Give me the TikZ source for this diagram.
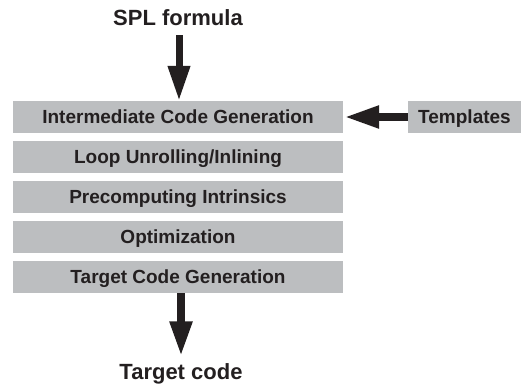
\documentclass[tikz,border=0pt]{standalone}
\usepackage{fontspec}
\setmainfont{Liberation Sans}
\usetikzlibrary{arrows.meta}
\definecolor{boxgray}{RGB}{188,190,192}
\definecolor{ink}{RGB}{35,31,32}
\begin{document}
\begin{tikzpicture}[x=1pt,y=1pt,
  stage/.style={fill=boxgray, draw=none, minimum width=330pt, minimum height=32pt, inner sep=0pt,
    text height=12.6pt, text depth=0pt,
    text=ink, font=\fontsize{19}{22}\selectfont\bfseries},
  title/.style={inner sep=0pt, text=ink, font=\fontsize{22}{26}\selectfont\bfseries, anchor=base},
  bigarrow/.style={draw=ink, line width=#1, -{Triangle[width=21pt,length=35pt]}},
]
\useasboundingbox (0,0) rectangle (521,-388);
\node[title] (spl) at (178,-25) {SPL formula};
\node[stage] (b1) at (178,-117) {Intermediate Code Generation};
\node[stage] (b2) at (178,-157) {Loop Unrolling/Inlining};
\node[stage] (b3) at (178,-197) {Precomputing Intrinsics};
\node[stage] (b4) at (178,-237) {Optimization};
\node[stage] (b5) at (178,-277) {Target Code Generation};
\node[stage, minimum width=113pt] (tmpl) at (464.5,-117) {Templates};
\node[title] (target) at (181,-379) {Target code};
\draw[bigarrow=7pt, shorten <=10pt] (spl.south -| 179,0) -- (b1.north -| 179,0);
\draw[bigarrow=8pt, shorten >=6.5pt] (b5.south -| target.north) -- (target.north);
\draw[bigarrow=8pt, shorten >=1pt] (tmpl.west) -- (tmpl.west -| b1.east);
\end{tikzpicture}
\end{document}
